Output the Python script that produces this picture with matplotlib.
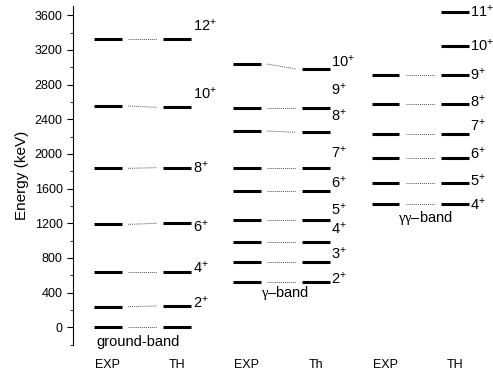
import matplotlib
matplotlib.use('Agg')
from matplotlib import pyplot as plt
import numpy as np

plt.rcParams['font.family'] = ['Liberation Sans', 'DejaVu Sans']
plt.rcParams['mathtext.fontset'] = 'custom'
plt.rcParams['mathtext.rm'] = 'Liberation Sans'
plt.rcParams['mathtext.sf'] = 'Liberation Serif'
plt.rcParams['mathtext.default'] = 'regular'

# column labels under the axis
col_labels = ["EXP", "TH", "EXP", "Th", "EXP", "TH"]

# ground band (keV)
gb_spin = [0, 2, 4, 6, 8, 10, 12]
gb_exp = [0, 238, 642, 1188, 1834, 2553, 3323]
gb_th = [0, 246, 642, 1200, 1842, 2538, 3323]

# gamma band (keV)
g_spin = [2, 3, 4, 5, 6, 7, 8, 9, 10]
g_exp = [519, 750, 988, 1238, 1573, 1842, 2265, 2534, 3038]
g_th = [519, 750, 988, 1238, 1573, 1842, 2250, 2534, 2980]

# gamma-gamma band (keV)
gg_spin_exp = [4, 5, 6, 7, 8, 9]
gg_exp = [1419, 1662, 1957, 2227, 2577, 2911]
gg_spin = [4, 5, 6, 7, 8, 9, 10, 11]
gg_th = [1419, 1662, 1957, 2227, 2577, 2911, 3246, 3642]

# label offsets (px above the level), per band
gb_off = [None, 3, 4, -3, 0, 14, 14]
g_off = [4, 9, 13, 10, 8, 15, 17, 18, 7]
gg_off = [0, 3, 4, 9, 2, 0, 0, 0]

fig = plt.figure(figsize=(4.93, 3.76), dpi=100)
ax = fig.add_axes([73/493, 31/376, 1 - 73/493, (345 - 6)/376])

hw = 0.2     # half width of level line
gap = 0.09   # gap between level line and dotted connector
px = 1.0 / 0.0867  # keV per pixel

def band(xe, xt, e_exp, e_th):
    for e in e_exp:
        ax.plot([xe - hw, xe + hw], [e, e], color='black', lw=2.2, solid_capstyle='butt')
    for e in e_th:
        ax.plot([xt - hw, xt + hw], [e, e], color='black', lw=2.2, solid_capstyle='butt')
    for a, b in zip(e_exp, e_th):
        ax.plot([xe + hw + gap, xt - hw - gap], [a, b], color='#555555', lw=0.7, ls=(0, (1, 1)))

def labels(xt, spins, e_th, offs):
    for s, e, o in zip(spins, e_th, offs):
        if o is None:
            continue
        ax.text(xt + hw + 0.02, e + o * px, "%d$^{+}$" % s, fontsize=10.5,
                ha='left', va='center')

band(1, 2, gb_exp, gb_th)
band(3, 4, g_exp, g_th)
band(5, 6, gg_exp, gg_th[:len(gg_exp)])
for e in gg_th[len(gg_exp):]:
    ax.plot([6 - hw, 6 + hw], [e, e], color='black', lw=2.2, solid_capstyle='butt')

labels(2, gb_spin, gb_th, gb_off)
labels(4, g_spin, g_th, g_off)
labels(6, gg_spin, gg_th, gg_off)

ax.text(1.44, -15 * px, "ground-band", fontsize=10.5, ha='center', va='center')
ax.text(3.56, 392, "$\\mathsf{\\gamma}$–band", fontsize=10.5, ha='center', va='center')
ax.text(5.58, 1260, "$\\mathsf{\\gamma\\gamma}$–band", fontsize=10.5, ha='center', va='center')

ax.set_xlim(0.496, 6.55)
ax.set_ylim(-204, 3707)
ax.set_xticks(np.arange(1, 7))
ax.set_xticklabels(col_labels, fontsize=9)
ax.tick_params(axis='x', length=0, pad=10)
ax.set_yticks(np.arange(0, 3601, 400))
ax.set_yticks(np.arange(-200, 3701, 200), minor=True)
ax.tick_params(axis='y', which='major', length=4, direction='out', labelsize=9)
ax.tick_params(axis='y', which='minor', length=2, direction='out')
for sp in ['top', 'right', 'bottom']:
    ax.spines[sp].set_visible(False)
ax.set_ylabel("Energy (keV)", fontsize=11, labelpad=4)

plt.savefig("out.png", dpi=100)
